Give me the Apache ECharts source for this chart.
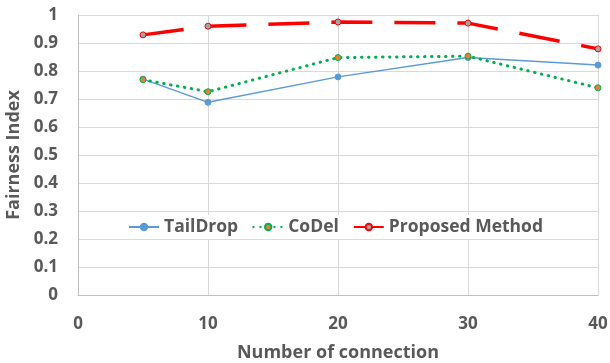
<!DOCTYPE html>
<html><head><meta charset="utf-8">
<script src="https://cdn.jsdelivr.net/npm/echarts@6/dist/echarts.min.js"></script>
<style>html,body{margin:0;padding:0;background:#fff}#c{width:610px;height:363px}</style>
</head><body><div id="c"></div>
<script>
const connections = [5, 10, 20, 30, 40];
const tailDrop = [0.771, 0.688, 0.779, 0.848, 0.821];
const coDel = [0.769, 0.726, 0.848, 0.853, 0.740];
const proposed = [0.929, 0.960, 0.975, 0.971, 0.879];
const seriesNames = ['TailDrop', 'CoDel', 'Proposed Method'];

const font = '"Open Sans", "Liberation Sans", sans-serif';
const txt = '#595959';
const pair = (ys) => connections.map((x, i) => [x, ys[i]]);

const chart = echarts.init(document.getElementById('c'), null, {renderer: 'canvas'});
chart.setOption({
  animation: false,
  backgroundColor: '#fff',
  grid: {left: 78, right: 12, top: 15, bottom: 68, containLabel: false, outerBoundsMode: 'none'},
  legend: {
    data: seriesNames,
    left: 124, top: 215,
    itemWidth: 30, itemHeight: 8, itemGap: 14,
    backgroundColor: '#fff',
    padding: [3, 4],
    textStyle: {fontFamily: font, fontSize: 17.5, fontWeight: 'bold', color: txt}
  },
  xAxis: {
    type: 'value', min: 0, max: 40, interval: 10,
    name: 'Number of connection', nameLocation: 'middle', nameGap: 49,
    nameTextStyle: {fontFamily: font, fontSize: 18, fontWeight: 'bold', color: txt},
    axisLine: {lineStyle: {color: '#BFBFBF', width: 1}},
    axisTick: {show: false},
    axisLabel: {fontFamily: font, fontSize: 17, fontWeight: 'bold', color: txt, margin: 21},
    splitLine: {show: true, lineStyle: {color: '#D9D9D9', width: 1}}
  },
  yAxis: {
    type: 'value', min: 0, max: 1, interval: 0.1,
    name: 'Fairness Index', nameLocation: 'middle', nameGap: 54,
    nameTextStyle: {fontFamily: font, fontSize: 18, fontWeight: 'bold', color: txt},
    axisLine: {show: true, lineStyle: {color: '#BFBFBF', width: 1}},
    axisTick: {show: false},
    axisLabel: {fontFamily: font, fontSize: 17, fontWeight: 'bold', color: txt, margin: 20,
      formatter: v => String(Math.round(v * 10) / 10)},
    splitLine: {show: true, lineStyle: {color: '#D9D9D9', width: 1}}
  },
  series: [
    {
      name: seriesNames[0], type: 'line', data: pair(tailDrop),
      symbol: 'circle', symbolSize: 6,
      lineStyle: {color: '#5B9BD5', width: 1.5},
      itemStyle: {color: '#5B9BD5', borderColor: '#5B9BD5', borderWidth: 1}
    },
    {
      name: seriesNames[1], type: 'line', data: pair(coDel),
      symbol: 'circle', symbolSize: 6,
      lineStyle: {color: '#00B050', width: 3, type: [0.5, 6.5], cap: 'round'},
      itemStyle: {color: '#ED7D31', borderColor: '#00B050', borderWidth: 1}
    },
    {
      name: seriesNames[2], type: 'line', data: pair(proposed),
      symbol: 'circle', symbolSize: 6,
      lineStyle: {color: '#FF0000', width: 3.5, type: [41, 22]},
      itemStyle: {color: '#A5A5A5', borderColor: '#FF0000', borderWidth: 1}
    }
  ]
});
</script></body></html>
